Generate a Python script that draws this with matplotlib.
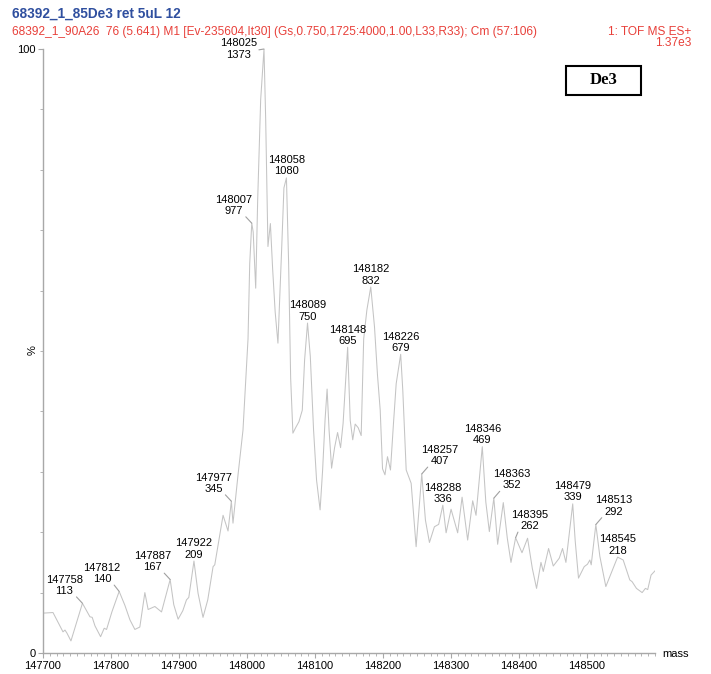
import matplotlib
matplotlib.use("Agg")
import matplotlib.pyplot as plt
from matplotlib.ticker import MultipleLocator
from matplotlib.patches import Rectangle

plt.rcParams['font.family'] = ['Liberation Sans', 'DejaVu Sans']

# ---- spectrum data -------------------------------------------------------
base_intensity = 1373  # intensity of the base peak (100 %)

# labelled peaks: mass and absolute intensity
peak_mass = [147758, 147812, 147887, 147922, 147977, 148007, 148025, 148058,
             148089, 148148, 148182, 148226, 148257, 148288, 148346, 148363,
             148395, 148479, 148513, 148545]
peak_intensity = [113, 140, 167, 209, 345, 977, 1373, 1080,
                  750, 695, 832, 679, 407, 336, 469, 352,
                  262, 339, 292, 218]

# remaining profile points (mass, relative intensity %)
trace_mass = [147700.0, 147714.7, 147722.5, 147729.4, 147732.3, 147735.2, 147741.1,
              147769.0, 147772.4, 147776.4, 147784.7, 147790.0, 147793.5, 147801.3,
              147820.4, 147827.8, 147835.1, 147842.4, 147849.8, 147854.6, 147864.5, 147874.3,
              147892.3, 147898.7, 147905.6, 147911.0, 147914.4,
              147928.0, 147935.3, 147942.3, 147950.1, 147952.6, 147964.8, 147972.1,
              147979.4, 147986.8, 147994.1, 148001.5, 148004.0,
              148009.1, 148012.8, 148015.7, 148020.1,
              148027.5, 148030.8, 148034.4, 148037.7, 148041.4, 148045.5, 148050.9, 148054.3,
              148061.2, 148064.2, 148067.5, 148071.5, 148076.4, 148081.3, 148084.7,
              148093.1, 148097.9, 148102.3, 148107.5, 148111.2, 148114.8, 148117.8, 148120.7,
              148124.4, 148128.8, 148133.2, 148137.6, 148141.3,
              148151.8, 148155.5, 148159.1, 148163.5, 148167.9, 148171.6, 148176.3,
              148187.5, 148191.9, 148195.9, 148199.3, 148202.9, 148206.6, 148211.0, 148215.4, 148219.4,
              148229.1, 148234.1, 148241.4, 148248.7,
              148262.4, 148268.3, 148275.6, 148281.9,
              148292.8, 148300.1, 148309.8, 148316.3, 148324.5, 148331.9, 148336.8,
              148351.2, 148356.4,
              148368.6, 148376.9, 148382.8, 148388.2,
              148404.4, 148412.6, 148419.6, 148425.8, 148432.3, 148435.7, 148443.5, 148450.4,
              148459.2, 148464.0, 148469.0,
              148482.7, 148487.5, 148495.9, 148500.7, 148504.2, 148506.2,
              148518.9, 148527.7, 148536.5,
              148553.2, 148562.9, 148566.4, 148572.7, 148581.1, 148585.9, 148589.3, 148594.2, 148600.0]
trace_pct = [6.6, 6.7, 5.0, 3.5, 3.8, 3.3, 2.0,
             6.0, 5.9, 4.5, 2.7, 4.1, 3.9, 6.8,
             7.9, 5.5, 3.9, 4.3, 10.0, 7.2, 7.7, 6.8,
             8.0, 5.6, 7.0, 8.8, 9.2,
             9.9, 5.9, 8.8, 14.3, 14.6, 22.8, 20.2,
             21.5, 29.5, 36.9, 52.0, 64.5,
             69.7, 60.4, 75.0, 91.6,
             88.2, 67.3, 71.1, 63.6, 56.5, 51.3, 66.7, 77.0,
             64.6, 45.5, 36.4, 37.3, 38.3, 40.2, 48.5,
             49.1, 36.9, 28.6, 23.7, 30.3, 38.6, 43.7, 36.9,
             30.6, 34.0, 36.5, 34.0, 38.0,
             38.5, 35.3, 37.9, 37.3, 36.0, 52.0, 56.8,
             54.0, 46.0, 40.2, 30.5, 29.5, 32.5, 30.3, 38.0, 44.6,
             43.5, 30.3, 28.1, 17.6,
             22.0, 18.3, 20.9, 21.3,
             19.9, 23.8, 19.9, 25.8, 18.7, 25.2, 22.8,
             25.0, 20.1,
             18.0, 24.9, 19.0, 15.0,
             16.6, 19.0, 14.0, 10.7, 15.0, 13.5, 17.3, 14.4,
             15.7, 17.3, 15.0,
             18.5, 12.4, 14.3, 14.7, 15.4, 14.6,
             16.0, 11.0, 13.5,
             15.4, 12.1, 11.8, 10.7, 10.0, 10.7, 10.5, 12.9, 13.6]

x_ticks = [147700, 147800, 147900, 148000, 148100, 148200, 148300, 148400, 148500]

header_title = "68392_1_85De3 ret 5uL 12"
header_info = ("68392_1_90A26  76 (5.641) M1 [Ev-235604,It30] "
               "(Gs,0.750,1725:4000,1.00,L33,R33); Cm (57:106)")
header_mode = "1: TOF MS ES+"
header_scale = "1.37e3"
sample_tag = "De3"

# label placement relative to each peak, in pixels (dx, dy);
# labels pushed sideways get a short leader line back to the peak
ABOVE = (0, 12)
label_offsets = [(-18, 18), (-17, 18), (-18, 18), ABOVE, (-18, 18), (-18, 18),
                 (-25, 0), ABOVE, ABOVE, ABOVE, ABOVE, ABOVE, (18, 18.5), ABOVE,
                 ABOVE, (18, 18.5), (14, 17.5), ABOVE, (18, 18.5), ABOVE]

# ---- figure ----------------------------------------------------------------
W, H = 711, 674
fig = plt.figure(figsize=(W / 100, H / 100), dpi=100)
ax = fig.add_axes([43 / W, 1 - 653 / H, 612 / W, 604 / H])

peak_pct = [v / base_intensity * 100 for v in peak_intensity]
profile = sorted(zip(trace_mass + peak_mass, trace_pct + peak_pct))
mass = [p[0] for p in profile]
pct = [p[1] for p in profile]

line_grey = '#c4c4c4'
axis_grey = '#a8a8a8'
ax.plot(mass, pct, color=line_grey, lw=0.75, solid_joinstyle='round')

ax.set_xlim(147700, 148600)
ax.set_ylim(0, 100)
for s in ('top', 'right'):
    ax.spines[s].set_visible(False)
for s in ('left', 'bottom'):
    ax.spines[s].set_color(axis_grey)
    ax.spines[s].set_linewidth(1.0)

ax.set_xticks(x_ticks)
ax.set_xticklabels([str(t) for t in x_ticks])
ax.xaxis.set_minor_locator(MultipleLocator(10))
ax.set_yticks([0, 100])
ax.set_yticklabels(['0', '100'])
ax.yaxis.set_minor_locator(MultipleLocator(10))
ax.tick_params(which='major', length=3.5, width=0.8, color=axis_grey,
               labelsize=8, pad=2, labelcolor='black')
ax.tick_params(which='minor', length=2, width=0.6, color=axis_grey)

for m, inten, p, (dx, dy) in zip(peak_mass, peak_intensity, peak_pct, label_offsets):
    props = None
    if dy < 5:
        # horizontal leader from the right edge of the label
        props = dict(arrowstyle='-', color='#a0a0a0', lw=0.8, patchA=None,
                     shrinkA=1, shrinkB=0, relpos=(1.0, 0.45))
    elif dx != 0:
        rx = 0.8 if dx < 0 else 0.2
        props = dict(arrowstyle='-', color='#a0a0a0', lw=0.8, patchA=None,
                     shrinkA=1, shrinkB=0, relpos=(rx, 0.0))
    ax.annotate(f"{m}\n{inten}", xy=(m, p), xytext=(dx, dy),
                textcoords='offset pixels', ha='center', va='center',
                fontsize=8, linespacing=1.15, arrowprops=props,
                annotation_clip=False)

# header lines
fig.text(12 / W, 1 - 14 / H, header_title, color='#2f4f9f', fontsize=9.8,
         fontweight='bold', va='center', ha='left')
fig.text(12 / W, 1 - 32 / H, header_info, color='#e8403a', fontsize=8.6,
         va='center', ha='left')
fig.text(691 / W, 1 - 32 / H, header_mode, color='#e8403a', fontsize=8.6,
         va='center', ha='right')
fig.text(691 / W, 1 - 43.5 / H, header_scale, color='#e8403a', fontsize=8.6,
         va='center', ha='right')

# axis captions
fig.text(33 / W, 1 - 350 / H, '%', rotation=90, fontsize=8,
         va='center', ha='center')
fig.text(662 / W, 1 - 654 / H, 'mass', fontsize=8, va='center', ha='left')

# sample tag box
fig.patches.append(Rectangle((566 / W, 1 - 95 / H), 75 / W, 29 / H,
                             transform=fig.transFigure, fill=False,
                             edgecolor='black', lw=1.5))
fig.text(603.5 / W, 1 - 80.5 / H, sample_tag, fontsize=12, fontweight='bold',
         family=['Liberation Serif', 'DejaVu Serif'], va='center', ha='center')

fig.savefig('out.png', dpi=100, facecolor='white')
